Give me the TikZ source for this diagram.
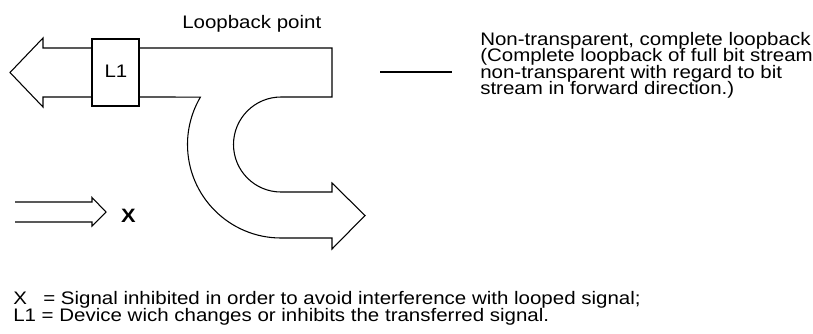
\documentclass[tikz,border=0pt]{standalone}
\usepackage{fontspec}
\setmainfont{Liberation Sans}[FakeStretch=1.13]
\begin{document}
\begin{tikzpicture}[x=0.75pt,y=-0.75pt,
  shape line/.style={draw=black, line width=0.8pt, line join=miter},
  lbl/.style={font=\fontsize{13.6pt}{16pt}\selectfont, inner sep=0pt, anchor=base west},
  devbox/.style={draw=black, fill=white, line width=0.8pt, minimum width=35.25pt, minimum height=50.25pt, inner sep=0pt}]
\useasboundingbox (0,0) rectangle (813,333);
% loopback shape
\draw[shape line] (139,48) -- (332,48) -- (332,97) -- (281,97)
  arc[start angle=270, end angle=90, radius=47.5] -- (332,192) -- (332,183)
  -- (365,215.5) -- (332,249) -- (332,238) -- (281,238)
  arc[start angle=90, end angle=210.5, radius=93.5] -- (139,97);
% left arrow
\draw[shape line] (92,48) -- (43,48) -- (43,38) -- (10,72.5) -- (43,107) -- (43,97) -- (92,97);
\node[devbox] (l1) at (115.5,72.5) {};
\node[lbl, anchor=base] (l1t) at (116,77.5) {L1};
% inhibited signal arrow
\draw[shape line] (15,202) -- (92,202) -- (92,197.5) -- (106,212) -- (92,226) -- (92,222) -- (15,222);
\node[font=\fontsize{14.5pt}{16pt}\selectfont\bfseries, inner sep=0pt, anchor=base] (x) at (128.5,222.3) {X};
% labels
\node[lbl] (lp) at (182,28) {Loopback point};
\coordinate (ls) at (380,72);
\coordinate (le) at (452,72);
\draw[line width=0.8pt] (ls) -- (le);
\node[lbl] (r1) at (480,45) {Non-transparent, complete loopback};
\node[lbl] (r2) at (480,61.5) {(Complete loopback of full bit stream};
\node[lbl] (r3) at (480,78) {non-transparent with regard to bit};
\node[lbl] (r4) at (480,94.5) {stream in forward direction.)};
\node[lbl] (b1) at (13,304) {\makebox[22.5pt][l]{X}= Signal inhibited in order to avoid interference with looped signal;};
\node[lbl] (b2) at (13,321) {L1 = Device wich changes or inhibits the transferred signal.};
\end{tikzpicture}
\end{document}
